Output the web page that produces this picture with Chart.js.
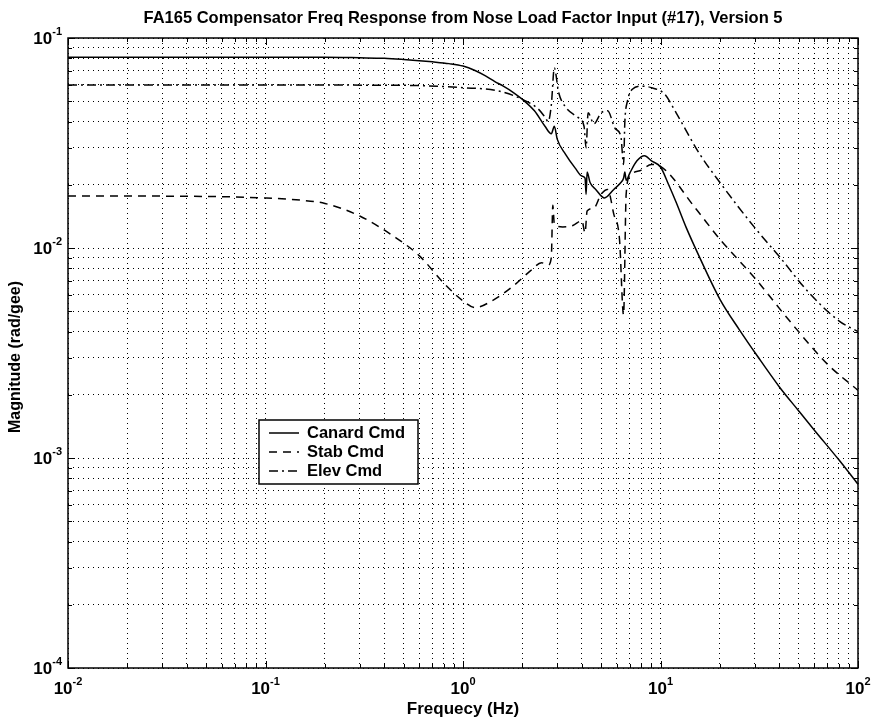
<!DOCTYPE html>
<html>
<head>
<meta charset="utf-8">
<script src="https://cdn.jsdelivr.net/npm/chart.js@4.4.1/dist/chart.umd.min.js"></script>
<style>
  html, body { margin: 0; padding: 0; background: #fff; }
  #wrap { width: 877px; height: 723px; position: relative; }
</style>
</head>
<body>
<div id="wrap"><canvas id="chart"></canvas></div>
<script>
// Data (frequency in Hz, magnitude in rad/gee)
const canardFreq = [0.01, 0.1, 0.2, 0.3, 0.4, 0.5, 0.6, 0.7, 0.85, 1.0, 1.15, 1.3, 1.45, 1.6, 1.8, 2.0, 2.3, 2.6, 2.8, 2.9, 3.0, 3.3, 3.7, 4.0, 4.15, 4.2, 4.25, 4.4, 4.7, 5.2, 5.8, 6.3, 6.5, 6.6, 6.7, 7.0, 7.6, 8.3, 9.0, 10, 11, 12, 13.5, 15.8, 20, 25, 31, 40, 50, 60, 80, 100];
const canardMag = [0.081, 0.081, 0.081, 0.0805, 0.080, 0.079, 0.078, 0.077, 0.0755, 0.0735, 0.070, 0.066, 0.062, 0.059, 0.055, 0.051, 0.045, 0.038, 0.035, 0.038, 0.033, 0.028, 0.024, 0.022, 0.0215, 0.018, 0.023, 0.0205, 0.019, 0.0173, 0.019, 0.0205, 0.0215, 0.023, 0.021, 0.0228, 0.026, 0.0275, 0.026, 0.0243, 0.020, 0.0165, 0.0125, 0.0090, 0.0057, 0.0041, 0.00305, 0.00218, 0.00168, 0.00136, 0.00098, 0.00075];

const stabFreq = [0.01, 0.05, 0.1, 0.15, 0.2, 0.3, 0.45, 0.6, 0.8, 1.0, 1.15, 1.4, 1.8, 2.2, 2.5, 2.7, 2.8, 2.85, 2.9, 3.2, 3.6, 4.0, 4.15, 4.25, 4.6, 5.0, 5.4, 5.8, 6.2, 6.5, 6.7, 7.0, 8.0, 9.0, 10, 15, 20, 30, 45, 70, 100];
const stabMag = [0.0177, 0.0176, 0.0173, 0.0169, 0.0163, 0.0142, 0.0113, 0.0092, 0.0068, 0.0056, 0.0052, 0.0056, 0.0066, 0.0078, 0.0085, 0.0083, 0.009, 0.016, 0.013, 0.0126, 0.0128, 0.0135, 0.0118, 0.015, 0.0155, 0.018, 0.019, 0.0145, 0.011, 0.0048, 0.018, 0.022, 0.0235, 0.025, 0.0245, 0.0155, 0.011, 0.0072, 0.0045, 0.0028, 0.0021];

const elevFreq = [0.01, 0.1, 0.5, 1.0, 1.5, 2.0, 2.4, 2.6, 2.7, 2.8, 2.9, 3.05, 3.3, 3.8, 4.1, 4.2, 4.3, 4.6, 5.0, 5.4, 5.9, 6.3, 6.5, 6.6, 6.8, 7.2, 8.0, 9.0, 10.5, 12, 15.8, 20, 30, 40, 55, 80, 100];
const elevMag = [0.0597, 0.0597, 0.0595, 0.058, 0.056, 0.051, 0.046, 0.042, 0.04, 0.048, 0.072, 0.055, 0.047, 0.042, 0.038, 0.03, 0.044, 0.039, 0.044, 0.045, 0.037, 0.034, 0.025, 0.04, 0.05, 0.057, 0.059, 0.058, 0.054, 0.044, 0.028, 0.0205, 0.0125, 0.0091, 0.0063, 0.0045, 0.004];

const seriesNames = ['Canard Cmd', 'Stab Cmd', 'Elev Cmd'];
const xDecades = [-2, -1, 0, 1, 2];
const yDecades = [-4, -3, -2, -1];

const titleText = 'FA165 Compensator Freq Response from Nose Load Factor Input (#17), Version 5';
const xTitle = 'Frequecy (Hz)';
const yTitle = 'Magnitude (rad/gee)';

const FONT = '"Liberation Sans", Arial, Helvetica, sans-serif';
const dashes = [[], [8, 6], [9, 4, 2, 4]];

function toPoints(fs, ms) {
  return fs.map((f, i) => ({ x: f, y: ms[i] }));
}

// 1..9 x 10^k ticks, MATLAB style grid
function logTicks(decades) {
  const ticks = [];
  for (let i = 0; i < decades.length; i++) {
    const base = Math.pow(10, decades[i]);
    const last = i === decades.length - 1;
    for (let m = 1; m <= (last ? 1 : 9); m++) {
      ticks.push({ value: m * base, major: m === 1 });
    }
  }
  return ticks;
}

function drawPow(ctx, x, y, exp, align) {
  ctx.font = 'bold 17px ' + FONT;
  const wBase = ctx.measureText('10').width;
  ctx.font = 'bold 11px ' + FONT;
  const wExp = ctx.measureText(String(exp)).width;
  const total = wBase + wExp;
  let sx = align === 'right' ? x - total : x - total / 2;
  ctx.textAlign = 'left';
  ctx.textBaseline = 'middle';
  ctx.font = 'bold 17px ' + FONT;
  ctx.fillText('10', sx, y);
  ctx.font = 'bold 11px ' + FONT;
  ctx.fillText(String(exp), sx + wBase, y - 7);
}

const matlabFrame = {
  id: 'matlabFrame',
  afterDraw(chart) {
    const { ctx, chartArea: a, scales: { x, y } } = chart;
    ctx.save();
    ctx.fillStyle = '#000';
    ctx.strokeStyle = '#000';

    // inward tick marks
    ctx.lineWidth = 1;
    ctx.beginPath();
    x.ticks.forEach(t => {
      const px = Math.round(x.getPixelForValue(t.value)) + 0.5;
      const len = t.major ? 7 : 4;
      ctx.moveTo(px, a.bottom); ctx.lineTo(px, a.bottom - len);
      ctx.moveTo(px, a.top); ctx.lineTo(px, a.top + len);
    });
    y.ticks.forEach(t => {
      const py = Math.round(y.getPixelForValue(t.value)) + 0.5;
      const len = t.major ? 7 : 4;
      ctx.moveTo(a.left, py); ctx.lineTo(a.left + len, py);
      ctx.moveTo(a.right, py); ctx.lineTo(a.right - len, py);
    });
    ctx.stroke();

    // box
    ctx.lineWidth = 1.5;
    ctx.strokeRect(a.left, a.top, a.right - a.left, a.bottom - a.top);

    // tick labels
    xDecades.forEach(d => drawPow(ctx, x.getPixelForValue(Math.pow(10, d)), a.bottom + 21, d, 'center'));
    yDecades.forEach(d => drawPow(ctx, a.left - 6, y.getPixelForValue(Math.pow(10, d)) + 1, d, 'right'));

    // titles
    const cx = (a.left + a.right) / 2;
    ctx.textAlign = 'center';
    ctx.textBaseline = 'middle';
    ctx.font = 'bold 16.5px ' + FONT;
    ctx.fillText(titleText, cx, 18);
    ctx.font = 'bold 17px ' + FONT;
    ctx.fillText(xTitle, cx, a.bottom + 41);
    ctx.save();
    ctx.translate(16, (a.top + a.bottom) / 2 + 4);
    ctx.rotate(-Math.PI / 2);
    ctx.font = 'bold 16px ' + FONT;
    ctx.fillText(yTitle, 0, 0);
    ctx.restore();

    // legend box
    const lx = 259, ly = 420, lw = 159, lh = 64;
    ctx.fillStyle = '#fff';
    ctx.fillRect(lx, ly, lw, lh);
    ctx.lineWidth = 1.5;
    ctx.strokeRect(lx, ly, lw, lh);
    ctx.fillStyle = '#000';
    ctx.font = 'bold 16.5px ' + FONT;
    ctx.textAlign = 'left';
    seriesNames.forEach((name, i) => {
      const ry = ly + 13 + i * 19;
      ctx.beginPath();
      ctx.setLineDash(dashes[i]);
      ctx.lineWidth = 1.5;
      ctx.moveTo(lx + 10, ry);
      ctx.lineTo(lx + 40, ry);
      ctx.stroke();
      ctx.setLineDash([]);
      ctx.fillText(name, lx + 48, ry);
    });
    ctx.restore();
  }
};

const gridOpts = {
  color: '#000',
  lineWidth: 1,
  drawTicks: false,
};

new Chart(document.getElementById('chart'), {
  type: 'line',
  data: {
    datasets: [
      { label: seriesNames[0], data: toPoints(canardFreq, canardMag), borderDash: dashes[0] },
      { label: seriesNames[1], data: toPoints(stabFreq, stabMag), borderDash: dashes[1] },
      { label: seriesNames[2], data: toPoints(elevFreq, elevMag), borderDash: dashes[2] },
    ].map(d => Object.assign(d, {
      borderColor: '#000',
      borderWidth: 1.5,
      pointRadius: 0,
      cubicInterpolationMode: 'monotone',
      fill: false,
    }))
  },
  options: {
    responsive: true,
    maintainAspectRatio: false,
    animation: false,
    layout: { padding: { left: 68, top: 38, right: 19, bottom: 55 } },
    plugins: {
      legend: { display: false },
      tooltip: { enabled: false },
    },
    scales: {
      x: {
        type: 'logarithmic',
        min: 0.01,
        max: 100,
        afterBuildTicks: s => { s.ticks = logTicks(xDecades); },
        ticks: { display: false },
        grid: gridOpts,
        border: { display: false, dash: [1, 4] },
      },
      y: {
        type: 'logarithmic',
        min: 0.0001,
        max: 0.1,
        afterBuildTicks: s => { s.ticks = logTicks(yDecades); },
        ticks: { display: false },
        grid: gridOpts,
        border: { display: false, dash: [1, 4] },
      }
    }
  },
  plugins: [matlabFrame]
});
</script>
</body>
</html>
